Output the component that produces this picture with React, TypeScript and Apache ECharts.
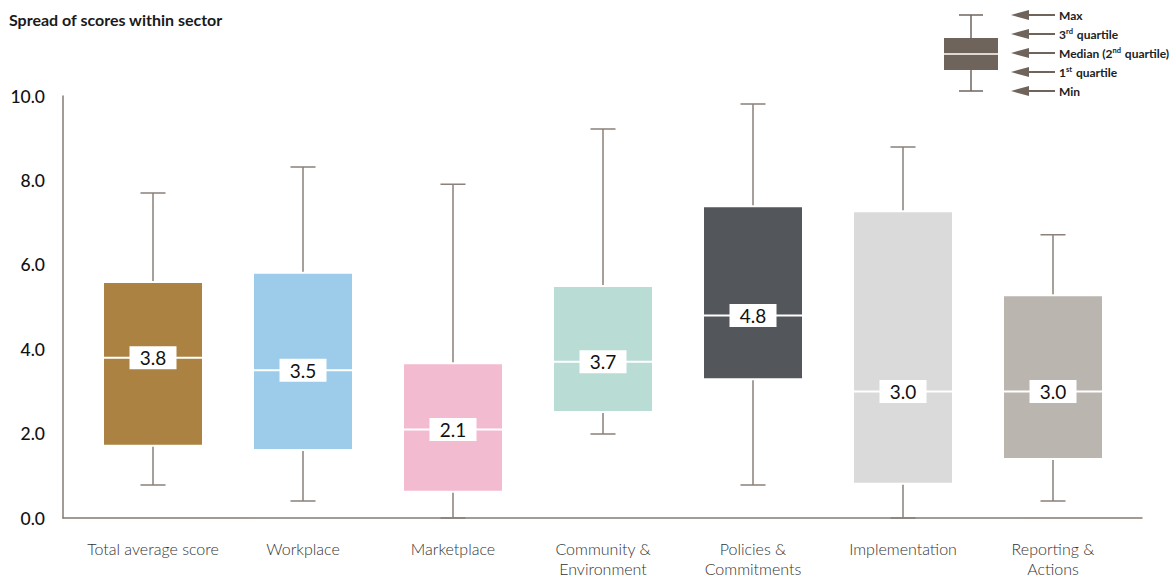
import React, { useEffect, useRef } from "react";
import * as echarts from "echarts";

const categories = [
  "Total average score",
  "Workplace",
  "Marketplace",
  "Community &\nEnvironment",
  "Policies &\nCommitments",
  "Implementation",
  "Reporting &\nActions",
];
const minVals = [0.78, 0.4, 0.0, 1.99, 0.78, 0.0, 0.4];
const q1Vals = [1.71, 1.61, 0.62, 2.51, 3.29, 0.81, 1.4];
const medianVals = [3.8, 3.5, 2.1, 3.7, 4.8, 3.0, 3.0];
const q3Vals = [5.59, 5.81, 3.67, 5.5, 7.39, 7.27, 5.28];
const maxVals = [7.7, 8.32, 7.91, 9.22, 9.81, 8.79, 6.71];
const boxColors = ["#AB8241", "#9DCBEA", "#F3BBD0", "#B9DDD4", "#53565A", "#DADADA", "#BAB5AF"];
const yTicks = [0, 2, 4, 6, 8, 10];

const legendRows = [
  "{a|Max}",
  "{a|3}{s|rd}{a| quartile}",
  "{a|Median (2}{s|nd}{a| quartile)}",
  "{a|1}{s|st}{a| quartile}",
  "{a|Min}",
];

const FONT = "Lato, 'Open Sans', sans-serif";
const AXIS_COLOR = "#857a72";
const WHISKER_COLOR = "#8b807a";
const LEGEND_COLOR = "#6f645c";

export default function App() {
  const ref = useRef<HTMLDivElement>(null);
  useEffect(() => {
    document.body.style.margin = "0";
    if (!ref.current) return;
    const chart = echarts.init(ref.current, null, { renderer: "svg" });

    const gridBase = { top: 96, bottom: 60, outerBoundsMode: "none", containLabel: false };
    const legendYs = [15, 34, 53, 72, 91];
    const legendGraphics: any[] = [
      { type: "line", shape: { x1: 971, y1: 15, x2: 971, y2: 91 }, style: { stroke: LEGEND_COLOR, lineWidth: 1.5 } },
      { type: "line", shape: { x1: 959, y1: 15, x2: 983, y2: 15 }, style: { stroke: LEGEND_COLOR, lineWidth: 1.5 } },
      { type: "line", shape: { x1: 959, y1: 91, x2: 983, y2: 91 }, style: { stroke: LEGEND_COLOR, lineWidth: 1.5 } },
      { type: "rect", shape: { x: 944, y: 38, width: 54, height: 32 }, style: { fill: LEGEND_COLOR } },
      { type: "line", shape: { x1: 944, y1: 54, x2: 998, y2: 54 }, style: { stroke: "#ffffff", lineWidth: 1.5 } },
    ];
    legendYs.forEach((y, i) => {
      legendGraphics.push({
        type: "polygon",
        shape: { points: [[1011, y], [1029, y - 5], [1029, y + 5]] },
        style: { fill: LEGEND_COLOR },
      });
      legendGraphics.push({
        type: "line",
        shape: { x1: 1028, y1: y, x2: 1055, y2: y },
        style: { stroke: LEGEND_COLOR, lineWidth: 2 },
      });
      legendGraphics.push({
        type: "text",
        x: 1059,
        y: y,
        style: {
          text: legendRows[i],
          verticalAlign: "middle",
          align: "left",
          rich: {
            a: { fontSize: 12, fontWeight: "bold", fontFamily: FONT, fill: "#222", lineHeight: 14 },
            s: { fontSize: 7.5, fontWeight: "bold", fontFamily: FONT, fill: "#222", lineHeight: 14, verticalAlign: "top", padding: [0, 1, 5, 0] },
          },
        },
      });
    });

    // whiskers: box collapsed to the median so only the whisker lines and caps remain visible
    const whiskerData = categories.map((_, i) => [minVals[i], medianVals[i], medianVals[i], medianVals[i], maxVals[i]]);
    const fillData = categories.map((_, i) => ({
      value: [q1Vals[i], q1Vals[i], medianVals[i], q3Vals[i], q3Vals[i]],
      itemStyle: { color: boxColors[i], borderColor: "#ffffff", borderWidth: 2 },
    }));
    const labelData = categories.map((_, i) => [i, medianVals[i]]);

    const hiddenY = { type: "value", min: 0, max: 10, interval: 2, show: false };

    chart.setOption({
      animation: false,
      backgroundColor: "#ffffff",
      title: {
        text: "Spread of scores within sector",
        left: 9,
        top: 11,
        padding: 0,
        textStyle: { fontSize: 16, fontWeight: "bold", fontFamily: FONT, color: "#1a1a1a" },
      },
      graphic: legendGraphics,
      grid: [
        { left: 63, right: 31, ...gridBase },
        { left: 78, right: 45, ...gridBase },
        { left: 78, right: 45, ...gridBase },
      ],
      xAxis: [
        {
          gridIndex: 0,
          type: "value",
          min: 0,
          max: 1,
          axisLine: { show: true, lineStyle: { color: AXIS_COLOR, width: 1.5 } },
          axisTick: { show: false },
          axisLabel: { show: false },
          splitLine: { show: false },
        },
        {
          gridIndex: 1,
          type: "category",
          data: categories,
          boundaryGap: true,
          axisLine: { show: false },
          axisTick: { show: false },
          splitLine: { show: false },
          axisLabel: {
            interval: 0,
            margin: 20,
            fontSize: 16,
            lineHeight: 20,
            fontWeight: 300,
            fontFamily: FONT,
            color: "#333333",
          },
        },
        {
          gridIndex: 2,
          type: "category",
          data: categories,
          boundaryGap: true,
          show: false,
        },
      ],
      yAxis: [
        {
          gridIndex: 0,
          type: "value",
          min: 0,
          max: 10,
          interval: 2,
          axisLine: { show: true, lineStyle: { color: AXIS_COLOR, width: 1.5 } },
          axisTick: { show: false },
          splitLine: { show: false },
          axisLabel: {
            margin: 18,
            fontSize: 17.5,
            fontWeight: 500,
            fontFamily: FONT,
            color: "#111111",
            formatter: (v: number) => (yTicks.includes(v) ? v.toFixed(1) : ""),
          },
        },
        { gridIndex: 1, ...hiddenY },
        { gridIndex: 2, ...hiddenY },
      ],
      series: [
        {
          type: "boxplot",
          xAxisIndex: 1,
          yAxisIndex: 1,
          boxWidth: [25, 25],
          z: 2,
          itemStyle: { color: "#ffffff", borderColor: WHISKER_COLOR, borderWidth: 1.5 },
          data: whiskerData,
          silent: true,
        },
        {
          type: "boxplot",
          xAxisIndex: 2,
          yAxisIndex: 2,
          boxWidth: [100, 100],
          z: 3,
          data: fillData,
          silent: true,
        },
        {
          type: "scatter",
          xAxisIndex: 1,
          yAxisIndex: 1,
          z: 5,
          symbol: "rect",
          symbolSize: [47, 23],
          itemStyle: { color: "#ffffff", opacity: 1 },
          label: {
            show: true,
            position: "inside",
            fontSize: 19,
            fontFamily: FONT,
            color: "#111111",
            formatter: (p: any) => Number(p.value[1]).toFixed(1),
          },
          data: labelData,
          silent: true,
        },
      ],
    });
    return () => chart.dispose();
  }, []);
  return <div ref={ref} style={{ width: 1173, height: 578 }} />;
}
